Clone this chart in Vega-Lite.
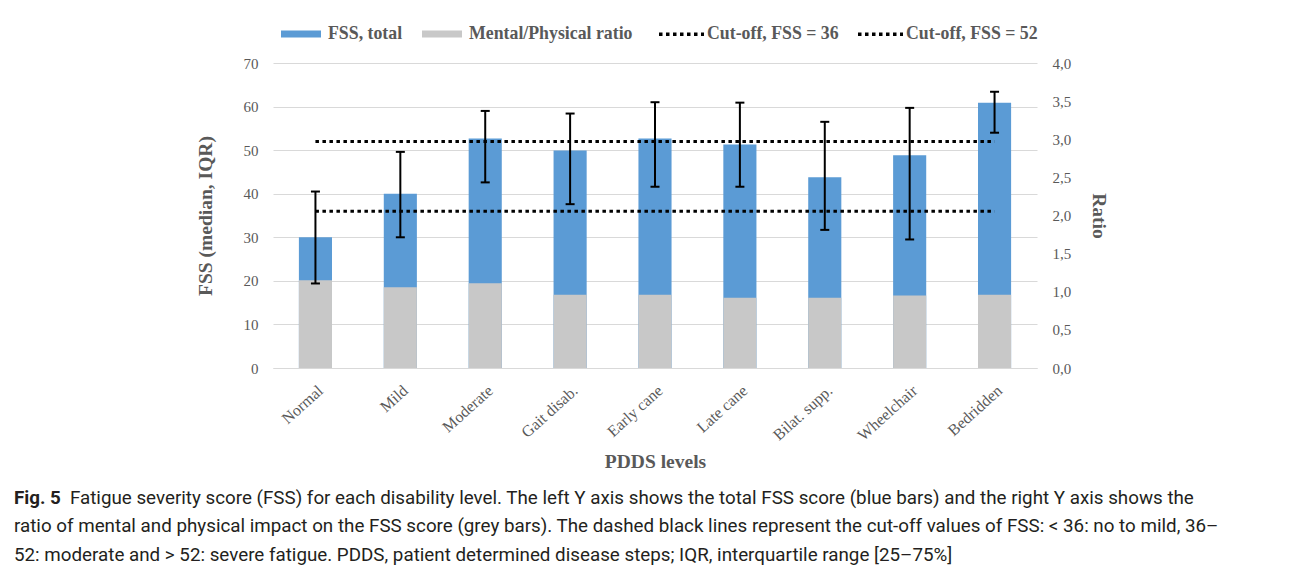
{
  "$schema": "https://vega.github.io/schema/vega-lite/v6.json",
  "width": 764,
  "height": 305,
  "autosize": {"type": "none"},
  "padding": {"left": 273, "top": 63, "right": 255, "bottom": 201},
  "background": "white",
  "datasets": {
    "fss": [
      {"level": "Normal", "fss": 30, "lo": 19.4, "hi": 40.5, "ratio": 1.15},
      {"level": "Mild", "fss": 40, "lo": 30, "hi": 49.6, "ratio": 1.06},
      {"level": "Moderate", "fss": 52.7, "lo": 42.6, "hi": 59.0, "ratio": 1.11},
      {"level": "Gait disab.", "fss": 49.9, "lo": 37.6, "hi": 58.4, "ratio": 0.96},
      {"level": "Early cane", "fss": 52.7, "lo": 41.6, "hi": 61.0, "ratio": 0.96},
      {"level": "Late cane", "fss": 51.3, "lo": 41.6, "hi": 60.9, "ratio": 0.92},
      {"level": "Bilat. supp.", "fss": 43.8, "lo": 31.7, "hi": 56.5, "ratio": 0.92},
      {"level": "Wheelchair", "fss": 48.8, "lo": 29.5, "hi": 59.7, "ratio": 0.95},
      {"level": "Bedridden", "fss": 60.9, "lo": 54.0, "hi": 63.4, "ratio": 0.96}
    ],
    "cut": [
      {"series": "Cut-off, FSS = 36", "fss": 36, "from": "Normal", "to": "Bedridden"},
      {"series": "Cut-off, FSS = 52", "fss": 52, "from": "Normal", "to": "Bedridden"}
    ]
  },
  "title": {
    "text": "Fig. 5",
    "subtitle": [
      "\u200b\u00a0\u00a0\u00a0\u00a0\u00a0\u00a0\u00a0\u00a0\u00a0\u00a0\u00a0\u00a0Fatigue severity score (FSS) for each disability level. The left Y axis shows the total FSS score (blue bars) and the right Y axis shows the",
      "ratio of mental and physical impact on the FSS score (grey bars). The dashed black lines represent the cut-off values of FSS: < 36: no to mild, 36–",
      "52: moderate and > 52: severe fatigue. PDDS, patient determined disease steps; IQR, interquartile range [25–75%]"
    ],
    "orient": "bottom",
    "anchor": "start",
    "frame": "group",
    "dx": -259,
    "offset": 18,
    "font": "Roboto",
    "fontSize": 18.8,
    "fontWeight": "bold",
    "lineHeight": 18.8,
    "color": "#231f20",
    "subtitleFont": "Roboto",
    "subtitleFontSize": 18.8,
    "subtitleFontWeight": "normal",
    "subtitleLineHeight": 28.5,
    "subtitlePadding": -18.8,
    "subtitleColor": "#231f20"
  },
  "encoding": {
    "x": {
      "field": "level",
      "type": "nominal",
      "scale": {
        "domain": ["Normal", "Mild", "Moderate", "Gait disab.", "Early cane", "Late cane", "Bilat. supp.", "Wheelchair", "Bedridden"],
        "paddingInner": 0.61,
        "paddingOuter": 0.305
      },
      "axis": {
        "title": "PDDS levels",
        "labelAngle": -42,
        "labelFontSize": 16,
        "labelPadding": 14,
        "ticks": false,
        "domainColor": "#D9D9D9",
        "domainWidth": 1,
        "titlePadding": 9
      }
    }
  },
  "layer": [
    {
      "data": {"name": "fss"},
      "mark": {"type": "bar"},
      "encoding": {
        "y": {
          "field": "fss",
          "type": "quantitative",
          "scale": {"domain": [0, 70], "nice": false},
          "axis": {
            "orient": "left",
            "values": [0, 10, 20, 30, 40, 50, 60, 70],
            "title": "FSS (median, IQR)",
            "grid": true,
            "gridColor": "#D9D9D9",
            "gridWidth": 1,
            "domain": false,
            "ticks": false,
            "labelPadding": 15,
            "titlePadding": 28
          }
        },
        "color": {
          "datum": "FSS, total",
          "type": "nominal",
          "title": null,
          "scale": {
            "domain": ["FSS, total", "Mental/Physical ratio"],
            "range": ["#5B9BD5", "#C8C8C8"]
          },
          "legend": {
            "orient": "none",
            "legendX": 8,
            "legendY": -49,
            "direction": "horizontal",
            "title": null,
            "symbolType": "M-1,-0.175H1V0.175H-1Z",
            "symbolSize": 1600,
            "symbolStrokeWidth": 0,
            "symbolOpacity": 1,
            "labelOffset": 7,
            "columnPadding": 19,
            "labelFont": "Liberation Serif",
            "labelFontSize": 17.8,
            "labelFontWeight": "bold",
            "labelColor": "#595959",
            "labelLimit": 400
          }
        }
      }
    },
    {
      "data": {"name": "fss"},
      "mark": {"type": "bar"},
      "encoding": {
        "y": {
          "field": "ratio",
          "type": "quantitative",
          "scale": {"domain": [0, 4], "nice": false},
          "axis": {
            "orient": "right",
            "values": [0, 0.5, 1, 1.5, 2, 2.5, 3, 3.5, 4],
            "labelExpr": "replace(format(datum.value, '.1f'), '.', ',')",
            "title": "Ratio",
            "grid": false,
            "domain": false,
            "ticks": false,
            "labelPadding": 15,
            "titlePadding": 18
          }
        },
        "color": {"datum": "Mental/Physical ratio", "type": "nominal", "title": null}
      }
    },
    {
      "layer": [
        {
          "data": {"name": "fss"},
          "mark": {"type": "rule", "color": "#000000", "strokeWidth": 2},
          "encoding": {
            "y": {"field": "lo", "type": "quantitative", "scale": {"domain": [0, 70], "nice": false}, "axis": null},
            "y2": {"field": "hi"}
          }
        },
        {
          "data": {"name": "fss"},
          "mark": {"type": "tick", "color": "#000000", "thickness": 2, "size": 9, "opacity": 1},
          "encoding": {
            "y": {"field": "lo", "type": "quantitative", "scale": {"domain": [0, 70], "nice": false}, "axis": null}
          }
        },
        {
          "data": {"name": "fss"},
          "mark": {"type": "tick", "color": "#000000", "thickness": 2, "size": 9, "opacity": 1},
          "encoding": {
            "y": {"field": "hi", "type": "quantitative", "scale": {"domain": [0, 70], "nice": false}, "axis": null}
          }
        },
        {
          "data": {"name": "cut"},
          "mark": {"type": "rule", "strokeWidth": 3, "color": "#000000"},
          "encoding": {
            "x": {"field": "from", "type": "nominal"},
            "x2": {"field": "to"},
            "y": {"field": "fss", "type": "quantitative", "scale": {"domain": [0, 70], "nice": false}, "axis": null},
            "strokeDash": {
              "field": "series",
              "type": "nominal",
              "title": null,
              "scale": {
                "domain": ["Cut-off, FSS = 36", "Cut-off, FSS = 52"],
                "range": [[3.5, 3.5], [3.5, 3.5]]
              },
              "legend": {
                "orient": "none",
                "legendX": 384,
                "legendY": -53.5,
                "direction": "horizontal",
                "title": null,
                "symbolType": "stroke",
                "symbolSize": 2025,
                "symbolStrokeWidth": 3.5,
                "symbolStrokeColor": "#000000",
                "labelOffset": 1,
                "columnPadding": 12,
                "labelFont": "Liberation Serif",
                "labelFontSize": 17.8,
                "labelFontWeight": "bold",
                "labelColor": "#595959",
                "labelLimit": 400
              }
            }
          }
        }
      ]
    }
  ],
  "resolve": {"scale": {"y": "independent"}, "axis": {"y": "independent"}},
  "config": {
    "view": {"stroke": null},
    "axis": {
      "labelFont": "Liberation Serif",
      "labelFontSize": 15,
      "labelColor": "#595959",
      "titleFont": "Liberation Serif",
      "titleFontSize": 19.5,
      "titleFontWeight": "bold",
      "titleColor": "#595959"
    }
  }
}
